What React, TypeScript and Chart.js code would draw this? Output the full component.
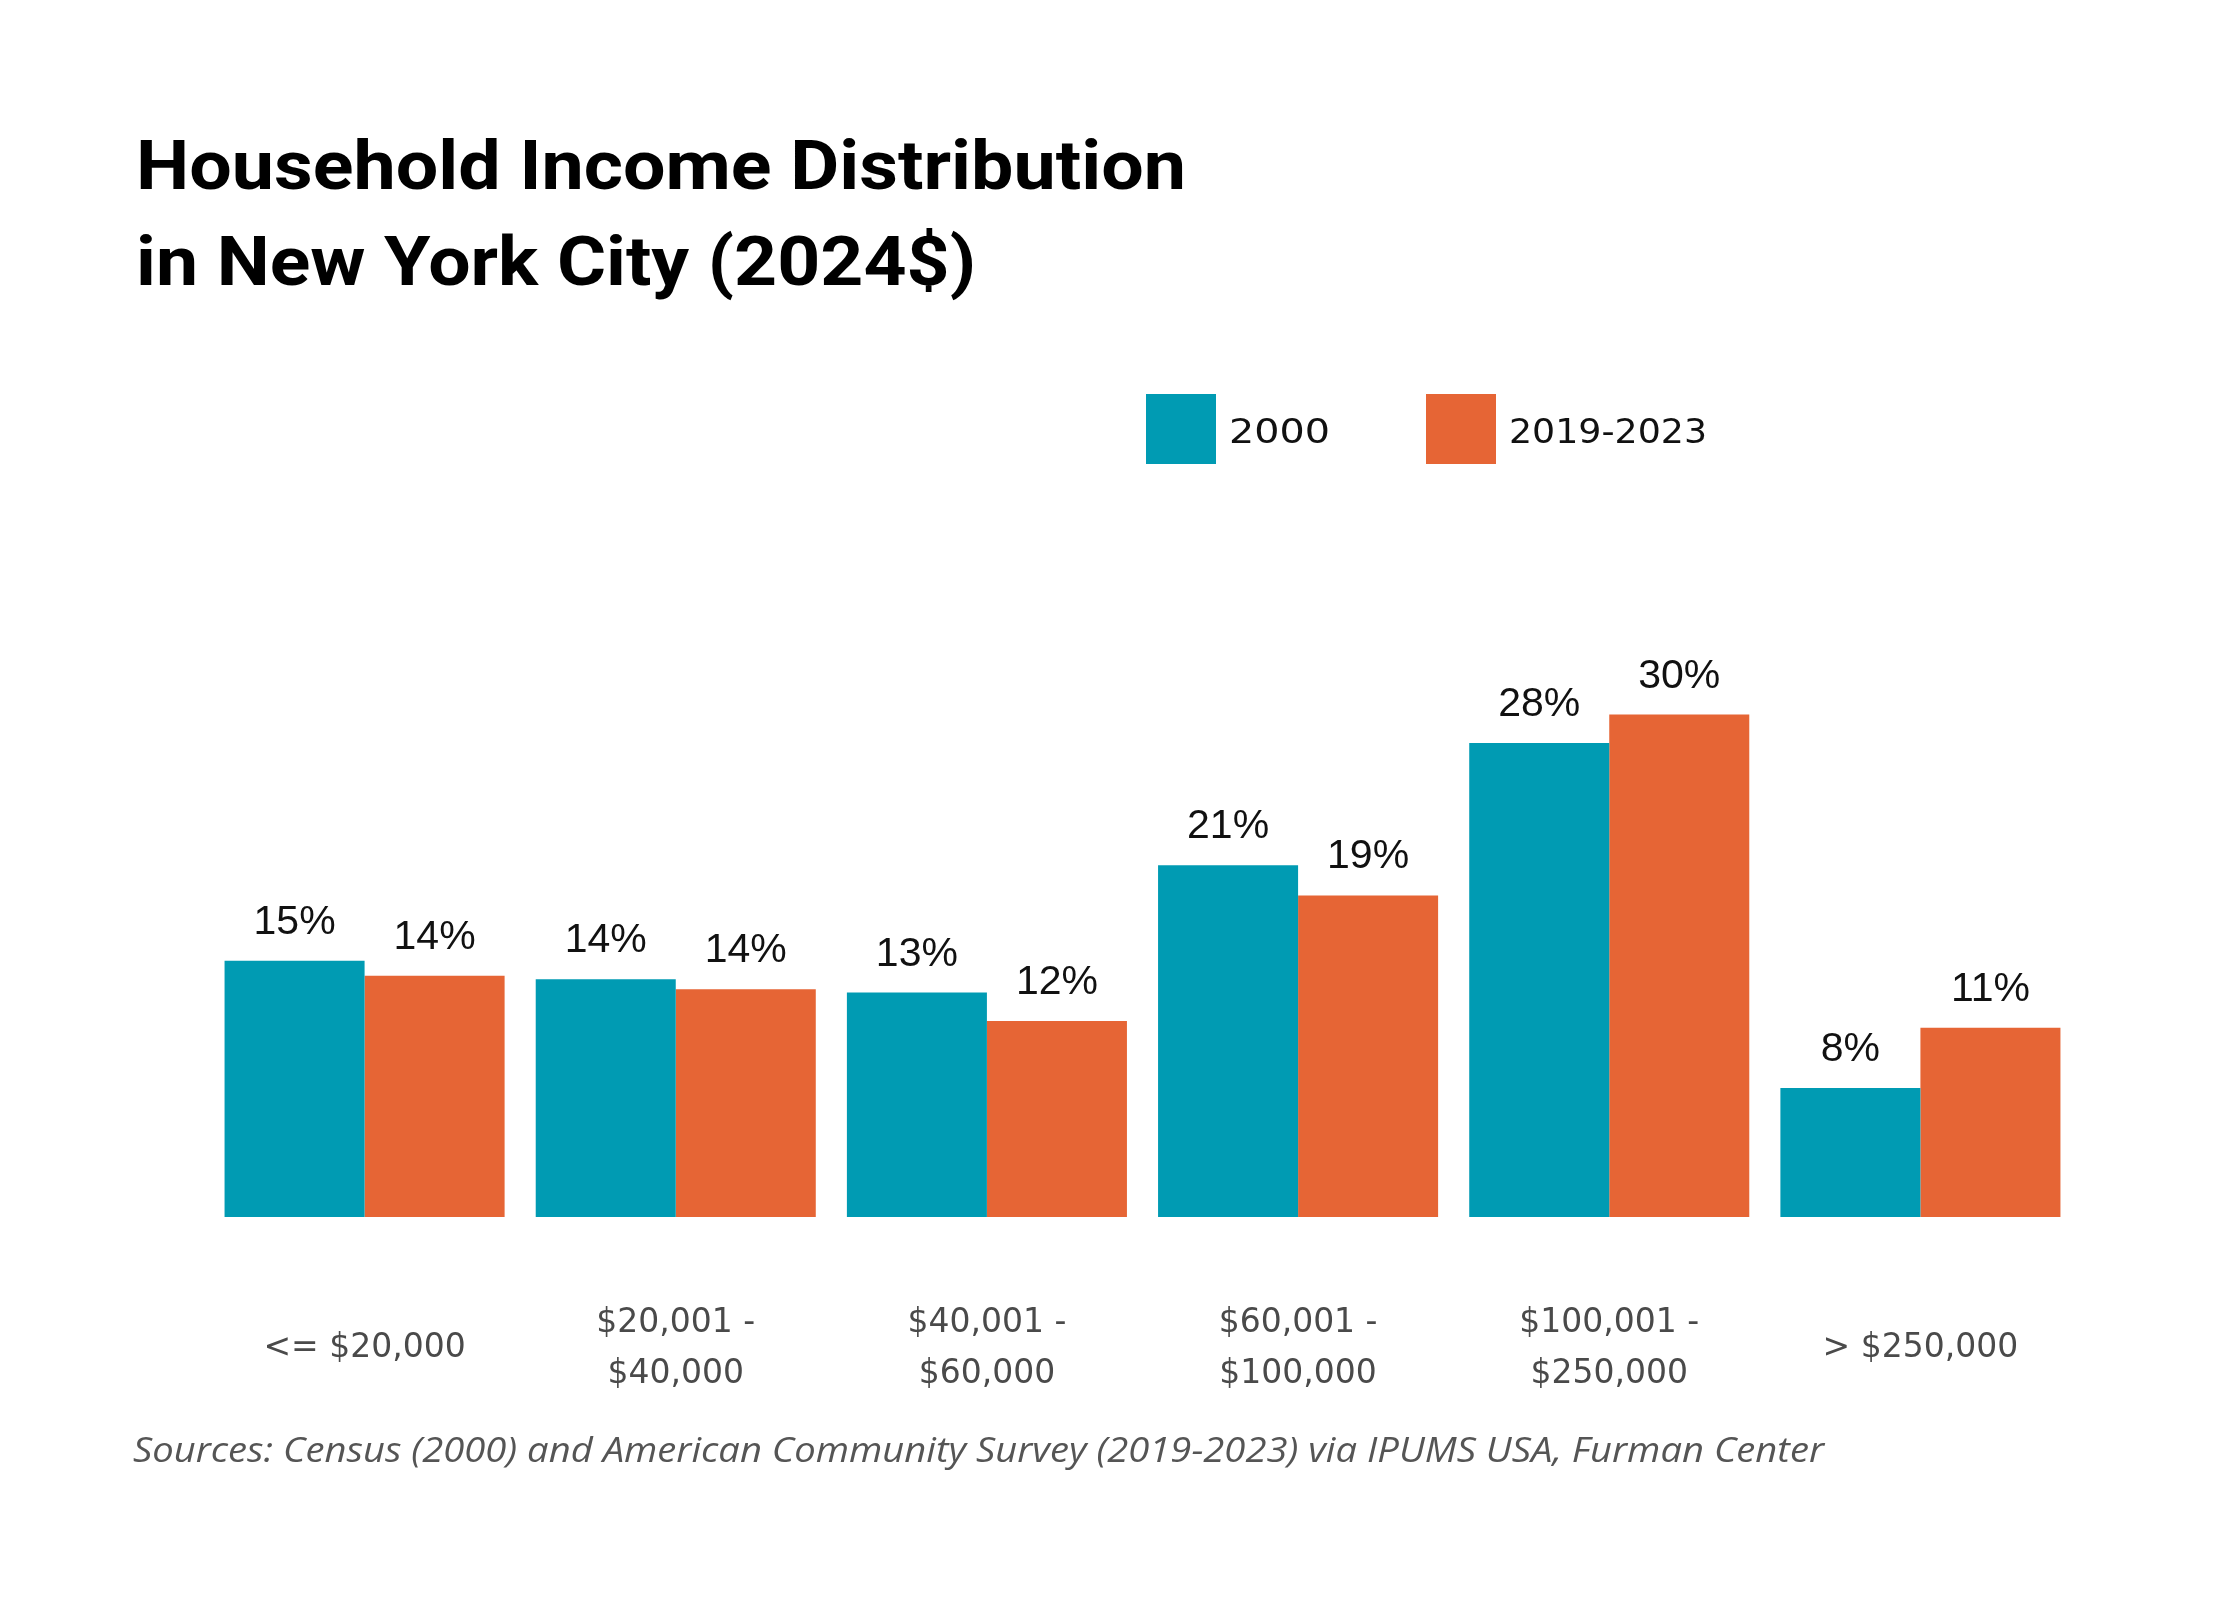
import React, { useEffect, useRef } from 'react';
import { Chart, registerables } from 'chart.js';

Chart.register(...registerables);

const titleLines = ['Household Income Distribution', 'in New York City (2024$)'];
const sourceText =
  'Sources: Census (2000) and American Community Survey (2019-2023) via IPUMS USA, Furman Center';

const categories: (string | string[])[] = [
  '<= $20,000',
  ['$20,001 -', '$40,000'],
  ['$40,001 -', '$60,000'],
  ['$60,001 -', '$100,000'],
  ['$100,001 -', '$250,000'],
  '> $250,000',
];

const seriesNames = ['2000', '2019-2023'];
const values2000 = [15.3, 14.2, 13.4, 21.0, 28.3, 7.7];
const values2019 = [14.4, 13.6, 11.7, 19.2, 30.0, 11.3];

const TEAL = '#009BB3';
const ORANGE = '#E66535';

function fitText(ctx: CanvasRenderingContext2D, text: string, x: number, y: number, width: number) {
  const w = ctx.measureText(text).width;
  ctx.save();
  ctx.translate(x, y);
  ctx.scale(width / w, 1);
  ctx.fillText(text, 0, 0);
  ctx.restore();
}

const decorPlugin = {
  id: 'decor',
  afterDraw(chart: any) {
    const ctx: CanvasRenderingContext2D = chart.ctx;
    ctx.save();
    // Title
    ctx.fillStyle = '#000';
    ctx.textAlign = 'left';
    ctx.textBaseline = 'alphabetic';
    ctx.font = 'bold 68px Roboto, "Liberation Sans", sans-serif';
    fitText(ctx, titleLines[0], 136, 189, 1050);
    fitText(ctx, titleLines[1], 136, 285, 840);

    // Legend
    const legendX = [1146, 1426];
    const textW = [101, 198];
    chart.data.datasets.forEach((ds: any, i: number) => {
      ctx.fillStyle = ds.backgroundColor;
      ctx.fillRect(legendX[i], 394, 70, 70);
      ctx.fillStyle = '#111';
      ctx.font = '34px "DejaVu Sans", sans-serif';
      fitText(ctx, ds.label, legendX[i] + 83, 443, textW[i]);
    });

    // Source
    ctx.fillStyle = '#555';
    ctx.font = 'italic 34px "Open Sans", sans-serif';
    fitText(ctx, sourceText, 133, 1462, 1691);
    ctx.restore();
  },
};

const valueLabelPlugin = {
  id: 'valueLabels',
  afterDatasetsDraw(chart: any) {
    const ctx: CanvasRenderingContext2D = chart.ctx;
    ctx.save();
    ctx.font = '41px "Liberation Sans", Arial, sans-serif';
    ctx.fillStyle = '#111';
    ctx.textAlign = 'center';
    ctx.textBaseline = 'alphabetic';
    chart.data.datasets.forEach((ds: any, i: number) => {
      const meta = chart.getDatasetMeta(i);
      meta.data.forEach((el: any, j: number) => {
        const v = ds.data[j] as number;
        ctx.fillText(Math.round(v) + '%', el.x, el.y - 27);
      });
    });
    ctx.restore();
  },
};

export default function App() {
  const ref = useRef<HTMLCanvasElement>(null);
  useEffect(() => {
    if (!ref.current) return;
    const chart = new Chart(ref.current, {
      type: 'bar',
      data: {
        labels: categories,
        datasets: [
          { label: seriesNames[0], data: values2000, backgroundColor: TEAL, borderWidth: 0 },
          { label: seriesNames[1], data: values2019, backgroundColor: ORANGE, borderWidth: 0 },
        ],
      },
      options: {
        animation: false,
        responsive: true,
        maintainAspectRatio: false,
        layout: { padding: { left: 209, right: 164, top: 547, bottom: 83 } },
        datasets: { bar: { categoryPercentage: 0.9, barPercentage: 1.0 } },
        plugins: {
          legend: { display: false },
          title: { display: false },
          tooltip: { enabled: false },
        },
        scales: {
          x: {
            grid: { display: false, drawTicks: false },
            border: { display: false },
            ticks: {
              color: '#4a4a4a',
              font: { family: '"DejaVu Sans", sans-serif', size: 33, lineHeight: 1.56 },
              padding: 106,
              crossAlign: 'center',
              maxRotation: 0,
              autoSkip: false,
            },
            afterFit: (scale: any) => {
              scale.height = 300;
            },
          },
          y: {
            display: false,
            min: 0,
            max: 40,
          },
        },
      },
      plugins: [valueLabelPlugin, decorPlugin],
    } as any);
    return () => chart.destroy();
  }, []);

  return (
    <div style={{ position: 'absolute', left: 0, top: 0, width: 2240, height: 1600, background: '#fff' }}>
      <canvas ref={ref} />
    </div>
  );
}
